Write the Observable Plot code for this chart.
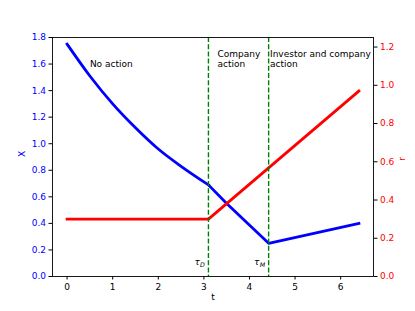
<!DOCTYPE html>
<html><head><meta charset="utf-8">
<script src="https://cdn.jsdelivr.net/npm/d3@7"></script>
<script src="https://cdn.jsdelivr.net/npm/@observablehq/plot@0.6"></script>
<style>body{margin:0;background:#fff}</style>
</head><body><div id="chart"></div>
<script>
// Blue series: X over t (left axis)
const tBlue = [0, 0.5, 1.0, 1.5, 2.0, 2.5, 3.1, 3.5, 4.42, 6.4];
const xBlue = [1.75, 1.51, 1.30, 1.12, 0.96, 0.83, 0.69, 0.55, 0.25, 0.40];
// Red series: r over t (right axis)
const tRed = [0, 3.1, 6.4];
const rRed = [0.30, 0.30, 0.97];
// Regime switch times
const tauT = [3.1, 4.42];
const tauSub = ["D", "M"];
// Annotations
const annLabels = ["No action", "Company\naction", "Investor and company\naction"];
const annT = [0.5, 3.3, 4.45];
const annX = [1.58, 1.58, 1.58];
// Ticks
const xTicks = [0, 1, 2, 3, 4, 5, 6];
const yTicks = [0, 0.2, 0.4, 0.6, 0.8, 1.0, 1.2, 1.4, 1.6, 1.8];
const rTicks = [0, 0.2, 0.4, 0.6, 0.8, 1.0, 1.2];

const k = 1.8 / 1.25; // maps r (right axis, 0..1.25) onto X scale (0..1.8)

const blue = tBlue.map((t, i) => ({t, v: xBlue[i]}));
const blueSmooth = blue.filter(d => d.t <= tauT[0]);
const blueLinear = blue.filter(d => d.t >= tauT[0]);
const red = tRed.map((t, i) => ({t, v: rRed[i] * k}));
const ann = annLabels.map((s, i) => ({s, t: annT[i], v: annX[i]}));
const subW = {D: 4.9, M: 5.6};

const tauMarks = tauT.flatMap((t, i) => [
  Plot.text([t], {x: d => d, y: () => 0.087, text: () => tauSub[i], textAnchor: "end", lineAnchor: "bottom",
    dx: -3.5, dy: 2, fontSize: 6.3, fontStyle: "italic", fill: "black"}),
  Plot.text([t], {x: d => d, y: () => 0.087, text: () => "τ", textAnchor: "end", lineAnchor: "bottom",
    dx: -3.5 - subW[tauSub[i]], fontSize: 9, fontStyle: "italic", fill: "black"})
]);

const lineStyle = {x: "t", y: "v", strokeWidth: 2.8, strokeLinecap: "square", strokeLinejoin: "round"};

const chart = Plot.plot({
  width: 415, height: 311,
  marginLeft: 52, marginRight: 42, marginTop: 37, marginBottom: 35,
  style: {fontFamily: "DejaVu Sans", fontSize: "9px", background: "white", color: "black"},
  x: {domain: [-0.32, 6.72]},
  y: {domain: [0, 1.8]},
  marks: [
    Plot.axisX(xTicks, {anchor: "bottom", tickSize: 3.5, tickPadding: 4, tickFormat: d => String(d), label: null, stroke: "black", fill: "black"}),
    Plot.axisY(yTicks, {anchor: "left", tickSize: 3.5, tickPadding: 3, tickFormat: d => d.toFixed(1), label: null, stroke: "black", fill: "blue"}),
    Plot.axisY(rTicks.map(r => r * k), {anchor: "right", tickSize: 3.5, tickPadding: 3, tickFormat: d => (d / k).toFixed(1), label: null, stroke: "black", fill: "red"}),
    Plot.line(blueSmooth, {...lineStyle, stroke: "blue", curve: "monotone-x"}),
    Plot.line(blueLinear, {...lineStyle, stroke: "blue"}),
    Plot.line(red, {...lineStyle, stroke: "red"}),
    Plot.ruleX(tauT, {stroke: "#008000", strokeWidth: 1.4, strokeDasharray: "5,2.2"}),
    Plot.text(ann, {x: "t", y: "v", text: "s", textAnchor: "start", lineAnchor: "bottom", lineHeight: 1.05, fill: "black"}),
    ...tauMarks,
    Plot.text(["X"], {frameAnchor: "left", dx: -30, rotate: -90, fill: "blue", fontSize: 9}),
    Plot.text(["r"], {frameAnchor: "right", dx: 29, rotate: -90, fill: "red", fontSize: 9}),
    Plot.text(["t"], {frameAnchor: "bottom", dy: 23, fill: "black", fontSize: 9}),
    Plot.frame({stroke: "black", strokeWidth: 0.9})
  ]
});
document.getElementById("chart").appendChild(chart);
</script>
</body></html>
